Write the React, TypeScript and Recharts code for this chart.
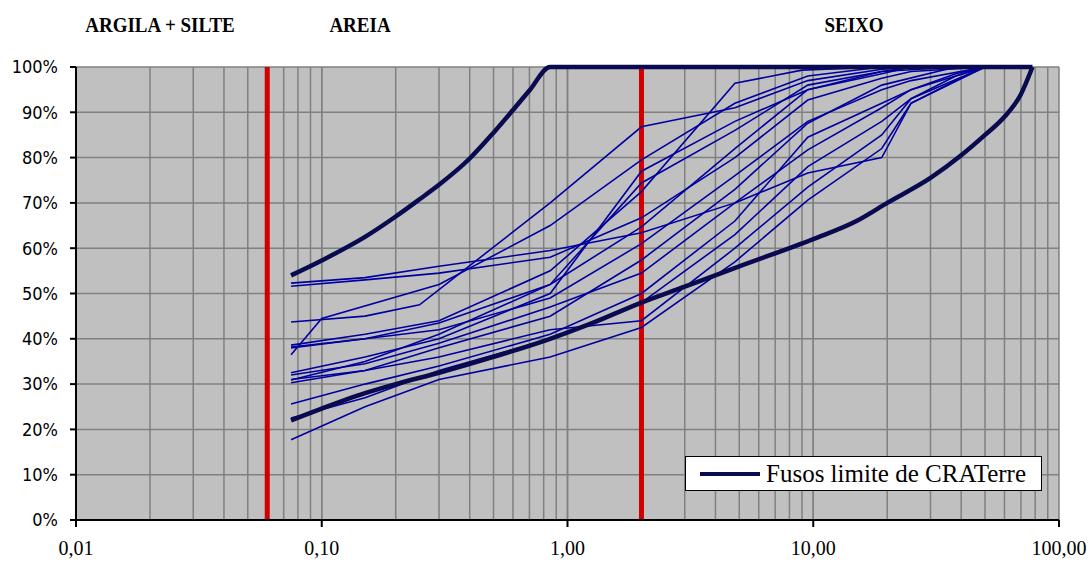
import React from 'react';
import { ComposedChart, Line, XAxis, YAxis, CartesianGrid } from 'recharts';

// ---- data ----
const xTicks = [0.01, 0.1, 1, 10, 100];
const yTicks = [0, 10, 20, 30, 40, 50, 60, 70, 80, 90, 100];
const zoneLabels = ['ARGILA + SILTE', 'AREIA', 'SEIXO'];
const boundaries = [0.06, 2];
const legendLabel = 'Fusos limite de CRATerre';

const upperLimit = [[0.075, 54], [0.1, 57.3], [0.15, 62.5], [0.2, 67], [0.25, 70.8], [0.3, 74], [0.4, 79.8], [0.5, 85.5], [0.6, 90.5], [0.7, 94.8], [0.85, 100], [78, 100]];
const lowerLimit = [[0.075, 22], [0.1, 24.6], [0.15, 28], [0.2, 30], [0.3, 32.5], [0.5, 36], [0.85, 40], [1.2, 43], [2, 48], [3, 51.5], [5, 56], [10, 62], [15, 66], [20, 70], [30, 75.5], [40, 80.5], [50, 85], [60, 89], [70, 94], [78, 100]];

const c1 = [[0.075, 52.3], [0.15, 53.5], [0.3, 56], [0.85, 59.5], [2, 63.4], [4.8, 70], [9.5, 81.7], [19, 91], [25, 95], [38, 98.5], [50, 100]];
const c2 = [[0.075, 51.6], [0.15, 53], [0.3, 54.5], [0.85, 58], [2, 66.7], [4.8, 80], [9.5, 92.7], [19, 97.5], [25, 99], [50, 100]];
const c3 = [[0.075, 43.7], [0.15, 45], [0.25, 47.5], [0.85, 70], [2, 86.8], [4.8, 91], [9.5, 97], [19, 99.5], [25, 100]];
const c4 = [[0.075, 36.5], [0.1, 44.5], [0.3, 52], [0.85, 65], [2, 79.5], [4.8, 92], [9.5, 98], [19, 100]];
const c5 = [[0.075, 38.6], [0.15, 41], [0.3, 44], [0.85, 55], [2, 72.5], [4.8, 96.4], [9, 99.3], [19, 100]];
const c6 = [[0.075, 38], [0.15, 40], [0.3, 42], [0.85, 49], [2, 61], [4.8, 76], [9.5, 88], [19, 95], [25, 97], [50, 100]];
const c7 = [[0.075, 32.5], [0.15, 36], [0.3, 40], [0.85, 50], [2, 77], [4.8, 88], [9.5, 95], [19, 99], [25, 100]];
const c8 = [[0.075, 30.9], [0.15, 35], [0.3, 41], [0.85, 52], [2, 74.4], [4.8, 86], [9.5, 96], [19, 99], [38, 100]];
const c9 = [[0.075, 30.3], [0.15, 33], [0.3, 38], [0.85, 45], [2, 57.4], [4.8, 73], [9.5, 87.6], [19, 96], [38, 100]];
const c10 = [[0.075, 25.6], [0.15, 30], [0.3, 34], [0.85, 41], [2, 50], [4.8, 66], [9.5, 84.5], [19, 92], [25, 95], [50, 100]];
const c11 = [[0.075, 17.7], [0.15, 25], [0.3, 31], [0.85, 36], [2, 42.5], [4.8, 57], [9.5, 70.6], [19, 82], [25, 92], [50, 100]];
const c12 = [[0.075, 32], [0.15, 34.5], [0.3, 39], [0.85, 47], [2, 54.5], [4.8, 70], [9.5, 76.6], [19, 80], [25, 92], [38, 97], [50, 100]];
const c13 = [[0.075, 31], [0.15, 33], [0.3, 36], [0.85, 42], [2, 44], [4.8, 60], [9.5, 73.5], [19, 85], [25, 93], [50, 100]];
const c14 = [[0.075, 38.2], [0.15, 40], [0.3, 43.5], [0.85, 52], [2, 64.7], [4.8, 82], [9.5, 95], [19, 98.5], [25, 100]];
const c15 = [[0.075, 22.5], [0.15, 27], [0.3, 33], [0.85, 40], [2, 48], [4.8, 63], [9.5, 78], [19, 88], [25, 93], [38, 98], [50, 100]];

const samples = [c1, c2, c3, c4, c5, c6, c7, c8, c9, c10, c11, c12, c13, c14, c15];

// ---- helpers ----
const toPts = (arr: number[][]) => arr.map(([x, y]) => ({ x, y }));
const gridValues: number[] = [];
[0.01, 0.1, 1, 10].forEach((d) => {
  [1, 2, 3, 4, 5, 6, 7, 8, 9, 10].forEach((m) => gridValues.push(+(d * m).toPrecision(3)));
});
const X_MIN = 0.01;
const X_MAX = 100;

const fmtX = (v: number) => v.toFixed(2).replace('.', ',');
const fmtY = (v: number) => `${v}%`;

const THIN = '#0000a0';
const THICK = '#0a0a50';

export default function App() {
  return (
    <div style={{ position: 'absolute', left: 0, top: 0, width: 1092, height: 565, background: '#fff' }}>
      <ComposedChart width={1092} height={565} margin={{ top: 67, right: 33, bottom: 15, left: 16 }}>
        <CartesianGrid
          fill="#c0c0c0"
          stroke="#808080"
          strokeWidth={1.5}
          verticalCoordinatesGenerator={(props: any) => {
            const off = props?.offset;
            if (!off) return [];
            const span = Math.log10(X_MAX) - Math.log10(X_MIN);
            return gridValues.map((v) => off.left + (off.width * (Math.log10(v) - Math.log10(X_MIN))) / span);
          }}
        />
        <XAxis
          dataKey="x"
          type="number"
          scale="log"
          domain={[X_MIN, X_MAX]}
          ticks={xTicks}
          tickFormatter={fmtX}
          allowDataOverflow
          height={30}
          axisLine={{ stroke: '#000', strokeWidth: 2 }}
          tickLine={{ stroke: '#000', strokeWidth: 2 }}
          tickSize={7}
          tickMargin={14}
          tick={{ fill: '#000', fontSize: 20, fontFamily: '"Liberation Serif", "Times New Roman", serif' }}
        />
        <YAxis
          dataKey="y"
          type="number"
          domain={[0, 100]}
          ticks={yTicks}
          tickFormatter={fmtY}
          width={60}
          axisLine={{ stroke: '#000', strokeWidth: 2 }}
          tickLine={{ stroke: '#000', strokeWidth: 2 }}
          tickSize={6}
          tickMargin={12}
          tick={{ fill: '#000', fontSize: 18, fontFamily: '"DejaVu Sans Condensed", "DejaVu Sans", sans-serif' }}
        />
        {boundaries.map((b, i) => (
          <Line
            key={'b' + i}
            data={[{ x: b, y: 0 }, { x: b, y: 100 }]}
            dataKey="y"
            stroke="#d00000"
            strokeWidth={5}
            dot={false}
            isAnimationActive={false}
          />
        ))}
        {samples.map((s, i) => (
          <Line
            key={'s' + i}
            data={toPts(s)}
            dataKey="y"
            stroke={THIN}
            strokeWidth={1.6}
            dot={false}
            isAnimationActive={false}
          />
        ))}
        <Line data={toPts(upperLimit)} dataKey="y" type="monotone" stroke={THICK} strokeWidth={4.5} dot={false} isAnimationActive={false} />
        <Line data={toPts(lowerLimit)} dataKey="y" type="monotone" stroke={THICK} strokeWidth={4.5} dot={false} isAnimationActive={false} />
      </ComposedChart>

      {zoneLabels.map((t, i) => (
        <div
          key={t}
          style={{
            position: 'absolute',
            top: 14,
            left: [160, 360, 854][i],
            transform: 'translateX(-50%) scaleY(1.15)',
            fontFamily: '"Liberation Serif", "Times New Roman", serif',
            fontWeight: 'bold',
            fontSize: 19,
            whiteSpace: 'nowrap',
            color: '#000',
          }}
        >
          {t}
        </div>
      ))}

      <div
        style={{
          position: 'absolute',
          left: 685,
          top: 456,
          width: 357,
          height: 35,
          background: '#fff',
          border: '1px solid #000',
          display: 'flex',
          alignItems: 'center',
          boxSizing: 'border-box',
        }}
      >
        <svg width={80} height={33} style={{ flex: 'none' }}>
          <line x1={14} y1={17} x2={74} y2={17} stroke={THICK} strokeWidth={4} />
        </svg>
        <span style={{ fontFamily: '"Liberation Serif", "Times New Roman", serif', fontSize: 25, color: '#000', whiteSpace: 'nowrap' }}>
          {legendLabel}
        </span>
      </div>
    </div>
  );
}
